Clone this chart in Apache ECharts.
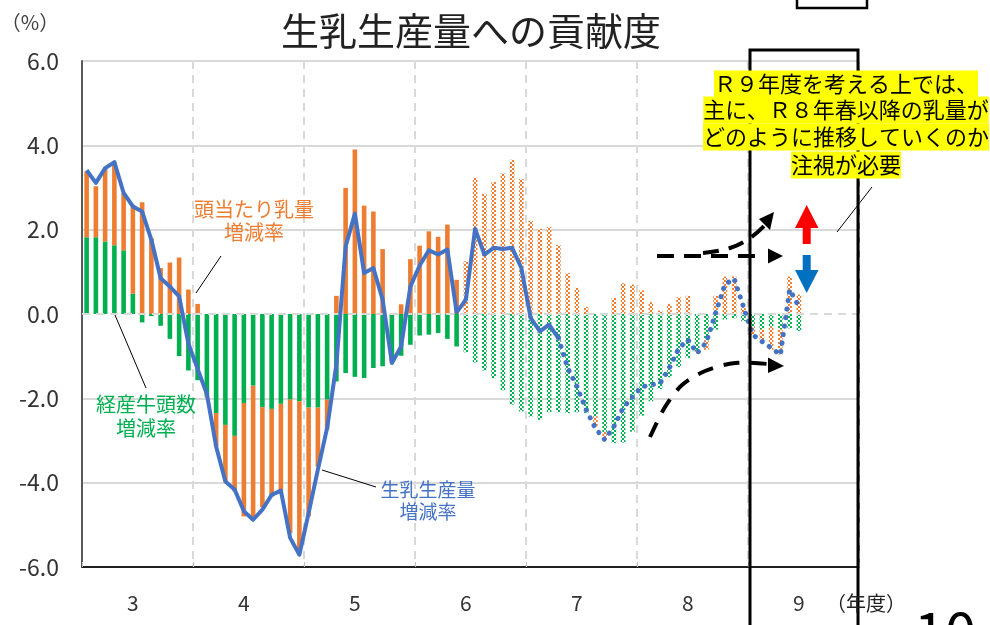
<!DOCTYPE html>
<html><head><meta charset="utf-8">
<script src="https://cdn.jsdelivr.net/npm/echarts@6/dist/echarts.min.js"></script>
<style>html,body{margin:0;padding:0;background:#fff}#c{width:990px;height:625px}</style>
</head><body><div id="c"></div>
<script>
// ---- data ----
const years = ['3','4','5','6','7','8','9'];
const monthsPerYear = 12;
const yTicks = [-6,-4,-2,0,2,4,6];
// 経産牛頭数増減率 (green)
const herdRate = [1.82,1.82,1.72,1.63,1.51,0.48,-0.20,-0.05,-0.28,-0.59,-1.00,-1.34,
 -1.57,-1.95,-2.35,-2.63,-2.89,-2.11,-1.70,-2.21,-2.25,-2.13,-2.03,-2.07,
 -2.22,-2.22,-2.03,-1.60,-1.40,-1.49,-1.52,-1.28,-1.24,-1.12,-0.99,-0.73,
 -0.51,-0.49,-0.45,-0.59,-0.77,-0.91,-1.15,-1.34,-1.52,-1.81,-2.15,-2.31,
 -2.43,-2.51,-2.33,-2.33,-2.35,-2.33,-2.35,-2.43,-2.80,-3.06,-3.05,-2.79,
 -2.41,-2.07,-1.78,-1.50,-1.26,-1.04,-0.89,-0.63,-0.37,-0.13,-0.10,-0.17,
 -0.30,-0.36,-0.30,-0.36,-0.34,-0.40];
// 頭当たり乳量増減率 (orange)
const yieldRate = [1.56,1.21,1.72,1.97,1.36,2.11,2.65,1.80,1.09,1.22,1.34,0.58,
 0.24,-0.03,-0.79,-1.34,-1.32,-2.69,-3.14,-2.37,-2.08,-2.08,-3.17,-3.60,
 -2.58,-1.40,-0.71,0.43,2.99,3.90,2.57,2.43,1.54,-0.04,0.23,1.30,
 1.62,1.96,1.83,2.12,0.81,1.25,3.23,2.85,3.13,3.33,3.66,3.20,
 2.21,2.02,2.06,1.64,0.97,0.62,0.17,-0.25,-0.18,0.38,0.73,0.70,
 0.56,0.28,0.08,0.24,0.40,0.43,-0.05,-0.22,0.43,0.89,0.89,0.18,
 -0.20,-0.29,-0.55,-0.60,0.89,0.46];
// 生乳生産量増減率 (blue line)
const milkRate = [3.41,3.11,3.46,3.60,2.87,2.55,2.43,1.76,0.85,0.65,0.42,-0.70,
 -1.30,-1.90,-3.14,-3.97,-4.16,-4.68,-4.88,-4.64,-4.29,-4.19,-5.31,-5.71,
 -4.72,-3.69,-2.70,-1.20,1.60,2.38,0.97,1.09,0.34,-1.16,-0.77,0.65,
 1.15,1.51,1.41,1.53,0.04,0.34,2.02,1.41,1.57,1.54,1.57,1.09,
 -0.09,-0.41,-0.25,-0.57,-1.28,-1.72,-2.27,-2.71,-2.98,-2.67,-2.23,-1.97,
 -1.73,-1.68,-1.64,-1.28,-0.82,-0.61,-0.93,-0.67,0.02,0.70,0.84,0.18,
 -0.49,-0.65,-0.80,-0.97,0.58,0.18];
const barForecastFrom = 41;   // index from which bars are hatched
const lineForecastFrom = 51;  // index from which the line is dotted

// ---- build ----
const FONT = '"Noto Sans CJK JP", "Noto Sans", sans-serif';
const categories = years.flatMap(y => Array.from({length: monthsPerYear}, (_, m) => y + '-' + (m + 1)));
const GREEN = '#00B050', ORANGE = '#ED7D31', BLUE = '#4472C4';
function checker(color) {
  const c = document.createElement('canvas');
  c.width = 4; c.height = 4;
  const g = c.getContext('2d');
  g.fillStyle = '#ffffff'; g.fillRect(0, 0, 4, 4);
  g.fillStyle = color; g.fillRect(0, 0, 2, 2); g.fillRect(2, 2, 2, 2);
  return {image: c, repeat: 'repeat'};
}
const greenPat = checker(GREEN), orangePat = checker(ORANGE);
const barData = (arr, solid, pat) => arr.map((v, i) => ({value: v, itemStyle: {color: i >= barForecastFrom ? pat : solid}}));

const chart = echarts.init(document.getElementById('c'), null, {renderer: 'canvas'});
const txt = (x, y, text, size, fill, extra) => Object.assign({
  type: 'text', x, y, z: 100,
  style: Object.assign({text, font: size + 'px ' + FONT, fill, align: 'center', verticalAlign: 'middle'}, extra || {})
});
const seg = (x1, y1, x2, y2) => ({type: 'line', z: 100, shape: {x1, y1, x2, y2}, style: {stroke: '#000', lineWidth: 1}});
const yellow = {backgroundColor: '#FFFF00', padding: [3, 0, 2, 0], fill: '#000'};

chart.setOption({
  animation: false,
  backgroundColor: '#fff',
  grid: {left: 82, right: 131, top: 61, bottom: 58, show: true, borderColor: '#000', borderWidth: 1},
  xAxis: {
    type: 'category', data: categories, boundaryGap: true,
    axisLine: {onZero: false, lineStyle: {color: '#000', width: 1.5}},
    axisTick: {show: true, inside: true, length: 5, interval: (i) => i % monthsPerYear === 0, lineStyle: {color: '#bfbfbf'}},
    axisLabel: {interval: (i) => i % monthsPerYear === 5, formatter: (v) => v.split('-')[0],
      fontSize: 21, color: '#333', margin: 26, fontFamily: FONT},
    splitLine: {show: true, interval: (i) => i % monthsPerYear === 0 && i > 0,
      lineStyle: {type: [8, 6], color: '#d9d9d9', width: 2}}
  },
  yAxis: {
    type: 'value', min: -6, max: 6, interval: 2,
    axisLine: {show: true, lineStyle: {color: '#595959', width: 2}},
    axisTick: {show: false},
    axisLabel: {formatter: (v) => v.toFixed(1), fontSize: 23, color: '#333', margin: 23, fontFamily: FONT},
    splitLine: {show: true, lineStyle: {width: 2, color: yTicks.map(t => (t === 0 || t === -6) ? 'rgba(0,0,0,0)' : '#d9d9d9')}}
  },
  series: [
    {name: '経産牛頭数増減率', type: 'bar', stack: 'c', barWidth: 4.6, data: barData(herdRate, GREEN, greenPat),
     markLine: {silent: true, symbol: 'none', label: {show: false},
       lineStyle: {type: [8, 6], color: '#d9d9d9', width: 2}, data: [{yAxis: 0}]}},
    {name: '頭当たり乳量増減率', type: 'bar', stack: 'c', barWidth: 4.6, data: barData(yieldRate, ORANGE, orangePat)},
    {name: '生乳生産量増減率', type: 'line', z: 6, symbol: 'none', smooth: false,
     data: milkRate.map((v, i) => i <= lineForecastFrom ? v : '-'),
     lineStyle: {color: BLUE, width: 4, join: 'round'}},
    {name: '生乳生産量増減率(見込)', type: 'line', z: 6, symbol: 'none', smooth: false,
     data: milkRate.map((v, i) => i >= lineForecastFrom ? v : '-'),
     lineStyle: {color: BLUE, width: 5, type: [0.1, 8.5], cap: 'round'}}
  ],
  graphic: [
    txt(471, 31, '生乳生産量への貢献度', 38, '#222'),
    txt(30, 22, '（%）', 20, '#404040'),
    txt(866, 603, '（年度）', 20, '#222'),
    txt(945, 604, '10', 56, '#000', {verticalAlign: 'top'}),
    // series labels
    txt(254, 221, '頭当たり乳量\n増減率', 20, ORANGE, {lineHeight: 23}),
    txt(146, 416, '経産牛頭数\n増減率', 20, GREEN, {lineHeight: 24}),
    txt(428, 501, '生乳生産量\n増減率', 19, BLUE, {lineHeight: 22}),
    seg(196, 293, 221, 256),
    seg(115, 315, 146, 388),
    seg(322, 470, 376, 487),
    seg(837, 232, 872, 187),
    // R9 box
    {type: 'rect', z: 90, shape: {x: 750, y: 50, width: 108, height: 620}, style: {fill: 'none', stroke: '#000', lineWidth: 3}},
    {type: 'rect', z: 90, shape: {x: 797, y: -12, width: 70, height: 20}, style: {fill: 'none', stroke: '#000', lineWidth: 2.5}},
    // yellow note
    txt(846, 84, 'Ｒ９年度を考える上では、', 22, '#000', yellow),
    txt(846, 110, '主に、Ｒ８年春以降の乳量が', 22, '#000', yellow),
    txt(846, 137, 'どのように推移していくのか', 22, '#000', yellow),
    txt(846, 165, '注視が必要', 22, '#000', yellow),
    // red / blue arrows
    {type: 'polygon', z: 100, shape: {points: [[806.7,205],[795,228],[802.7,228],[802.7,244],[810.7,244],[810.7,228],[818.5,228]]}, style: {fill: '#FF0000'}},
    {type: 'polygon', z: 100, shape: {points: [[802.7,255],[810.7,255],[810.7,270],[818.5,270],[806.7,293],[795,270],[802.7,270]]}, style: {fill: '#0070C0'}},
    // dashed arrows
    {type: 'polyline', z: 100, shape: {points: [[657,256],[758,256]]}, style: {stroke: '#000', lineWidth: 4, lineDash: [17, 10], fill: null}},
    {type: 'polygon', z: 100, shape: {points: [[768,248.5],[783,256],[768,263.5]]}, style: {fill: '#000'}},
    {type: 'polyline', z: 100, shape: {points: [[703,253],[730,248],[750,238],[764,226]], smooth: 0.4}, style: {stroke: '#000', lineWidth: 4, lineDash: [16, 10], fill: null}},
    {type: 'polygon', z: 100, shape: {points: [[774,212],[759,219],[770,230]]}, style: {fill: '#000'}},
    {type: 'polyline', z: 100, shape: {points: [[650,437],[665,407],[682,385],[705,371],[735,363],[768,364]], smooth: 0.3}, style: {stroke: '#000', lineWidth: 4, lineDash: [16, 11], fill: null}},
    {type: 'polygon', z: 100, shape: {points: [[768,357.5],[784,366],[768,373]]}, style: {fill: '#000'}}
  ]
});
</script></body></html>
